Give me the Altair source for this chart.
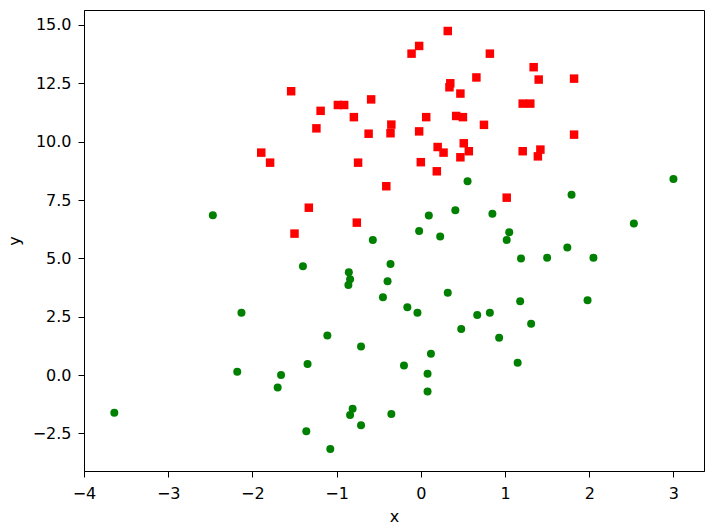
import altair as alt
import pandas as pd

# Red squares (class 1)
red_x = [-1.54, -1.19, -0.985, -0.91, -0.795, -1.24, -1.895, -1.79, -0.745, -1.33,
         -0.76, -1.50, 0.32, -0.02, -0.11, 0.66, 0.35, 0.34, 0.47, -0.59,
         0.064, 0.42, 0.50, 0.75, -0.35, -0.36, -0.62, -0.02, 0.20, 0.27,
         0.51, 0.57, 0.47, 0.00, 0.19, -0.41, 0.82, 1.34, 1.40, 1.82,
         1.21, 1.30, 1.82, 1.21, 1.42, 1.39, 1.02]
red_y = [12.16, 11.32, 11.57, 11.57, 11.05, 10.57, 9.53, 9.10, 9.10, 7.17,
         6.53, 6.06, 14.74, 14.10, 13.77, 12.75, 12.50, 12.33, 12.06, 11.81,
         11.05, 11.10, 11.05, 10.72, 10.73, 10.36, 10.34, 10.44, 9.77, 9.53,
         9.93, 9.59, 9.33, 9.12, 8.73, 8.09, 13.77, 13.19, 12.66, 12.70,
         11.63, 11.63, 10.30, 9.59, 9.66, 9.37, 7.60]

# Green circles (class 0)
green_x = [-1.40, -0.855, -0.84, -0.86, -2.13, -1.11, -0.71, -1.345, -2.18, -1.66,
           -1.70, -0.81, -0.84, -0.71, -1.36, -1.075, -3.64, -2.47, 0.555, 0.095,
           0.41, -0.02, 0.23, -0.57, -0.36, -0.395, -0.45, 0.32, -0.16, -0.04,
           0.67, 0.48, 0.12, -0.20, 0.08, 0.08, -0.35, 3.00, 1.79, 0.85,
           2.53, 1.05, 1.02, 1.19, 1.50, 1.74, 2.05, 1.18, 1.98, 0.82,
           1.31, 0.93, 1.15]
green_y = [4.66, 4.40, 4.11, 3.86, 2.67, 1.70, 1.22, 0.47, 0.14, 0.00,
           -0.53, -1.44, -1.71, -2.15, -2.41, -3.17, -1.61, 6.85, 8.30, 6.84,
           7.06, 6.17, 5.94, 5.79, 4.76, 4.02, 3.33, 3.53, 2.90, 2.67,
           2.57, 1.97, 0.91, 0.41, 0.06, -0.70, -1.67, 8.40, 7.72, 6.91,
           6.49, 6.12, 5.79, 4.99, 5.03, 5.46, 5.03, 3.16, 3.21, 2.67,
           2.20, 1.60, 0.53]

x_ticks = [-4, -3, -2, -1, 0, 1, 2, 3]
y_ticks = [-2.5, 0.0, 2.5, 5.0, 7.5, 10.0, 12.5, 15.0]

W, H = 620, 461
FONT = "DejaVu Sans"

red_df = pd.DataFrame({"x": red_x, "y": red_y})
green_df = pd.DataFrame({"x": green_x, "y": green_y})

axis_common = dict(
    grid=False, domain=True, domainColor="black", domainWidth=1,
    ticks=True, tickColor="black", tickSize=6, tickWidth=1,
    labelFont=FONT, labelFontSize=16, labelColor="black", labelFlush=False,
    labelOverlap=False,
    titleFont=FONT, titleFontSize=16, titleColor="black", titleFontWeight="normal",
    titleBaseline="alphabetic", titleAlign="center",
)

xenc = alt.X("x:Q", title="x",
             scale=alt.Scale(domain=[-4, 3.363], nice=False, zero=False),
             axis=alt.Axis(values=x_ticks, format="d", labelPadding=8,
                           titleX=W / 2, titleY=50, **axis_common))
yenc = alt.Y("y:Q", title="y",
             scale=alt.Scale(domain=[-4.11, 15.64], nice=False, zero=False),
             axis=alt.Axis(values=y_ticks, format=".1f", labelPadding=7,
                           titleX=-65, titleY=H / 2, titleAngle=270, **axis_common))

green = alt.Chart(green_df).mark_circle(color="#008000", opacity=1, size=64).encode(x=xenc, y=yenc)
red = alt.Chart(red_df).mark_square(color="#ff0000", opacity=1, size=72).encode(x=xenc, y=yenc)

chart = alt.layer(green, red).properties(
    width=W, height=H,
    autosize=alt.AutoSizeParams(type="none"),
    padding={"left": 76, "top": 2, "right": 7, "bottom": 56},
).configure_view(stroke="black", strokeWidth=1)

chart.save("out.html", embed_options={"renderer": "svg", "actions": False})
